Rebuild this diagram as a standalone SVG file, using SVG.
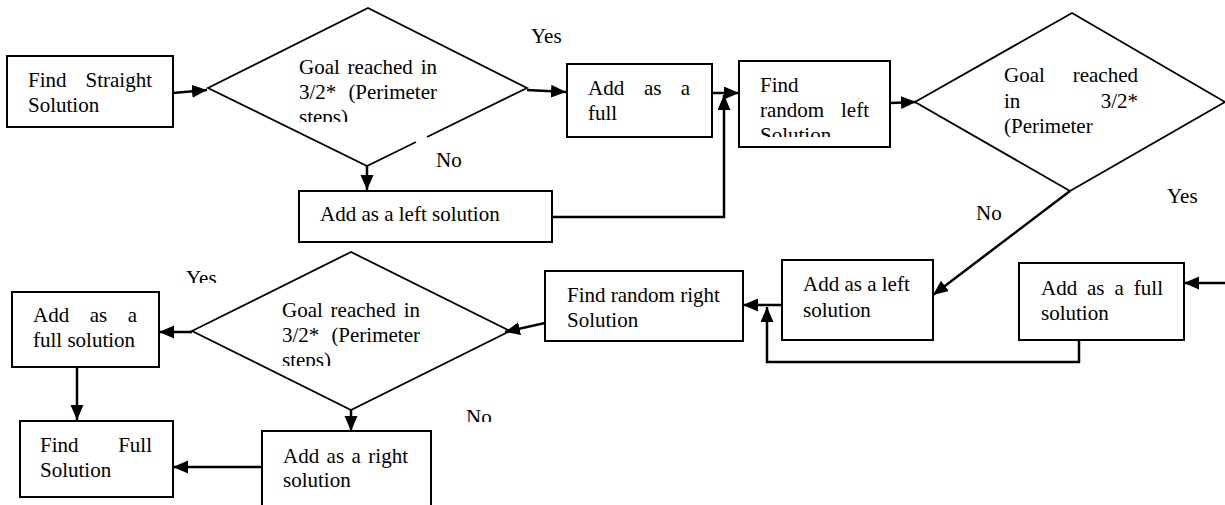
<svg xmlns="http://www.w3.org/2000/svg" width="1225" height="505" viewBox="0 0 1225 505">
<defs>
<style>
.box{fill:#fff;stroke:#000;stroke-width:2}
.dia{fill:none;stroke:#000;stroke-width:1.8}
.con{fill:none;stroke:#000;stroke-width:2.5}
text{font-family:'Liberation Serif','DejaVu Serif',serif;font-size:21px;fill:#000}
</style>
<marker id="ah" markerUnits="userSpaceOnUse" markerWidth="16" markerHeight="14" refX="15" refY="6.5" orient="auto">
<path d="M0,0 L15,6.5 L0,13 z" fill="#000"/>
</marker>
<clipPath id="c1"><rect x="280" y="50" width="170" height="72"/></clipPath>
<clipPath id="c3"><rect x="270" y="295" width="170" height="71"/></clipPath>
<clipPath id="c10"><rect x="740" y="62" width="148" height="75"/></clipPath>
<clipPath id="cy3"><rect x="180" y="260" width="50" height="23"/></clipPath>
<clipPath id="cn3"><rect x="460" y="400" width="40" height="22"/></clipPath>
</defs>
<rect width="1225" height="505" fill="#fff"/>

<g id="connectors">
<path class="con" d="M173,93 L207,90" marker-end="url(#ah)"/>
<path class="con" d="M527,90 L566,92" marker-end="url(#ah)"/>
<path class="con" d="M367,166 L367,190" marker-end="url(#ah)"/>
<path class="con" d="M552,217 L724,217 L724,95" marker-end="url(#ah)"/>
<path class="con" d="M712,93 L739,93" marker-end="url(#ah)"/>
<path class="con" d="M890,103 L916,102" marker-end="url(#ah)"/>
<path class="con" d="M1070,191 L933,295" marker-end="url(#ah)"/>
<path class="con" d="M1225,283 L1184,283" marker-end="url(#ah)"/>
<path class="con" d="M1079,340 L1079,362 L767,362 L767,307" marker-end="url(#ah)"/>
<path class="con" d="M782,305 L743,305" marker-end="url(#ah)"/>
<path class="con" d="M545,323 L505,332" marker-end="url(#ah)"/>
<path class="con" d="M192,332 L159,332" marker-end="url(#ah)"/>
<path class="con" d="M77,367 L77,420" marker-end="url(#ah)"/>
<path class="con" d="M351,410 L351,431" marker-end="url(#ah)"/>
<path class="con" d="M262,467 L173,467" marker-end="url(#ah)"/>
</g>

<g font-family="Liberation Serif, DejaVu Serif, serif">
<g id="n1">
<rect class="box" x="7" y="56" width="166" height="71"/>
<text x="28" y="87">Find</text><text x="152" y="87" text-anchor="end">Straight</text>
<text x="28" y="112">Solution</text>
</g>

<g id="d1">
<path class="dia" d="M427,137 L527,88 L368,8 L208,88 L367,166 L416,142"/>
<g clip-path="url(#c1)">
<text x="299" y="74">Goal</text><text x="347.6" y="74">reached</text><text x="437" y="74" text-anchor="end">in</text>
<text x="299" y="99">3/2*</text><text x="437" y="99" text-anchor="end">(Perimeter</text>
<text x="299" y="124">steps)</text>
</g>
</g>

<g id="lbl-yes1"><text x="531" y="43">Yes</text></g>
<g id="lbl-no1"><text x="436" y="167">No</text></g>

<g id="n2">
<rect class="box" x="567" y="64" width="145" height="73"/>
<text x="588" y="95">Add</text><text x="644" y="95">as</text><text x="690" y="95" text-anchor="end">a</text>
<text x="588" y="120">full</text>
</g>

<g id="n3">
<rect class="box" x="299" y="191" width="253" height="51"/>
<text x="320" y="221">Add as a left solution</text>
</g>

<g id="n4">
<rect class="box" x="739" y="61" width="151" height="86"/>
<g clip-path="url(#c10)">
<text x="760" y="92">Find</text>
<text x="760" y="117">random</text><text x="869" y="117" text-anchor="end">left</text>
<text x="760" y="142">Solution</text>
</g>
</g>

<g id="d2">
<path class="dia" d="M915,102 L1072,13 L1225,102 L1070,191 Z"/>
<text x="1004" y="82">Goal</text><text x="1138" y="82" text-anchor="end">reached</text>
<text x="1004" y="108">in</text><text x="1138" y="108" text-anchor="end">3/2*</text>
<text x="1004" y="133">(Perimeter</text>
</g>

<g id="lbl-yes2"><text x="1167" y="203">Yes</text></g>
<g id="lbl-no2"><text x="976" y="220">No</text></g>

<g id="n5">
<rect class="box" x="782" y="260" width="151" height="80"/>
<text x="803" y="291">Add as a left</text>
<text x="803" y="317">solution</text>
</g>

<g id="n6">
<rect class="box" x="1019" y="263" width="165" height="77"/>
<text x="1041" y="295">Add</text><text x="1087" y="295">as</text><text x="1114.5" y="295">a</text><text x="1163" y="295" text-anchor="end">full</text>
<text x="1041" y="320">solution</text>
</g>

<g id="n7">
<rect class="box" x="545" y="271" width="198" height="70"/>
<text x="567" y="302">Find random right</text>
<text x="567" y="327">Solution</text>
</g>

<g id="d3">
<path class="dia" d="M192,331 L351,252 L510,331 L351,410 Z"/>
<g clip-path="url(#c3)">
<text x="282" y="317">Goal</text><text x="330.6" y="317">reached</text><text x="420" y="317" text-anchor="end">in</text>
<text x="282" y="342">3/2*</text><text x="420" y="342" text-anchor="end">(Perimeter</text>
<text x="282" y="367">steps)</text>
</g>
</g>

<g id="lbl-yes3"><text x="186" y="285" clip-path="url(#cy3)">Yes</text></g>
<g id="lbl-no3"><text x="466" y="424" clip-path="url(#cn3)">No</text></g>

<g id="n8">
<rect class="box" x="12" y="292" width="147" height="75"/>
<text x="33" y="322">Add</text><text x="89.7" y="322">as</text><text x="137" y="322" text-anchor="end">a</text>
<text x="33" y="347">full solution</text>
</g>

<g id="n9">
<rect class="box" x="20" y="421" width="153" height="76"/>
<text x="40" y="452">Find</text><text x="152" y="452" text-anchor="end">Full</text>
<text x="40" y="477">Solution</text>
</g>

<g id="n10">
<rect class="box" x="262" y="431" width="169" height="84"/>
<text x="283" y="463">Add</text><text x="326.6" y="463">as</text><text x="351.5" y="463">a</text><text x="408" y="463" text-anchor="end">right</text>
<text x="283" y="487">solution</text>
</g>
</g>
</svg>
